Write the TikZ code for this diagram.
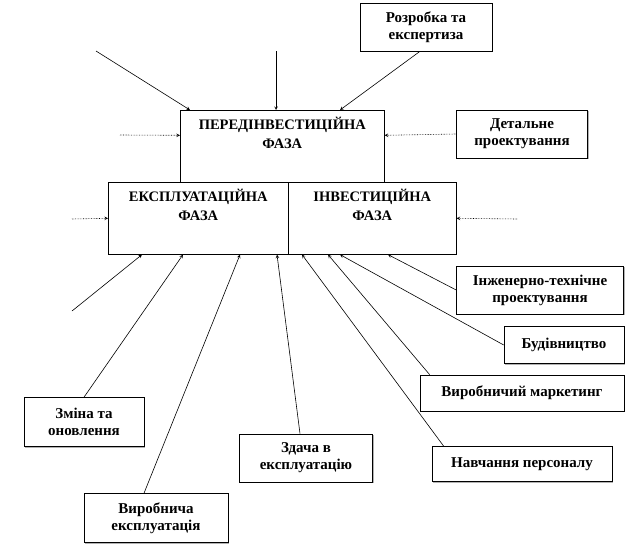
\documentclass[tikz,border=0pt]{standalone}
\usepackage{fontspec}
\setmainfont{Liberation Serif}
\usepackage{tikz}
\usetikzlibrary{arrows, positioning, calc, shadows}
\tikzstyle{arrow} = [semithick,->,>=stealth]
\tikzstyle{dotarrow} = [arrow, densely dotted]

\begin{document}
\begin{tikzpicture}[x=1pt, y=-1pt,
    phase/.style={rectangle, draw, semithick, fill=white, minimum height=72pt, inner sep=0pt, drop shadow={shadow xshift=1pt, shadow yshift=-1pt, fill=gray!60, opacity=1}},
    phasetitle/.style={anchor=north, align=center, yshift=-4pt, font=\bfseries\fontsize{14.5}{19}\selectfont},
    task/.style={rectangle, draw, semithick, fill=white, align=center, inner sep=0pt, font=\bfseries\fontsize{15}{17}\selectfont, drop shadow={shadow xshift=1pt, shadow yshift=-1pt, fill=gray!60, opacity=1}}
  ]
    \useasboundingbox (0,0) rectangle (627,555);

    % Phases
    \node[phase, minimum width=204pt, anchor=north west, label={[phasetitle]north:{ПЕРЕДІНВЕСТИЦІЙНА\\ФАЗА}}] (pre) at (180,110) {};
    \node[phase, minimum width=180pt, anchor=north west, label={[phasetitle]north:{ЕКСПЛУАТАЦІЙНА\\ФАЗА}}] (expl) at (108,182) {};
    \node[phase, minimum width=168pt, anchor=north west, label={[phasetitle]north:{ІНВЕСТИЦІЙНА\\ФАЗА}}] (inv) at (288,182) {};

    % Stages
    \node[task, minimum width=132pt, minimum height=48pt] (razr) at (426,27) {Розробка та\\експертиза};
    \node[task, minimum width=131pt, minimum height=48pt] (detal) at (522,134) {Детальне\\проектування};
    \node[task, minimum width=167pt, minimum height=48pt] (inzh) at (540,290) {Інженерно-технічне\\проектування};
    \node[task, minimum width=120pt, minimum height=37pt] (budiv) at (564,345) {Будівництво};
    \node[task, minimum width=204pt, minimum height=36pt] (market) at (522,393) {Виробничий маркетинг};
    \node[task, minimum width=180pt, minimum height=35pt] (navch) at (522,464) {Навчання персоналу};
    \node[task, minimum width=120pt, minimum height=49pt] (zmina) at (84,422) {Зміна та\\оновлення};
    \node[task, minimum width=144pt, minimum height=49pt] (vyrob) at (156,518) {Виробнича\\експлуатація};
    \node[task, minimum width=133pt, minimum height=48pt] (zdacha) at (306,458) {Здача в\\експлуатацію};

    % Free ends
    \coordinate (inA) at (96,51);
    \coordinate (inB) at (276,51);
    \coordinate (inC) at (120,135);
    \coordinate (inD) at (72,219);
    \coordinate (inE) at (517,219);
    \coordinate (inF) at (72,311);

    % Arrows into the phases
    \draw[arrow] (inA) -- ([xshift=10pt]pre.north west);
    \draw[arrow] (inB) -- ([xshift=96pt]pre.north west);
    \draw[arrow] ([xshift=-6pt]razr.south) -- ([xshift=160pt]pre.north west);
    \draw[dotarrow] (inC) -- ([yshift=11pt]pre.west);
    \draw[dotarrow] (detal.west) -- ([yshift=11pt]pre.east);
    \draw[dotarrow] (inD) -- (expl.west);
    \draw[dotarrow] (inE) -- (inv.east);

    \draw[arrow] (inF) -- ([xshift=34pt]expl.south west);
    \draw[arrow] (zmina.north) -- ([xshift=75pt]expl.south west);
    \draw[arrow] ([xshift=-12pt]vyrob.north) -- ([xshift=132pt]expl.south west);
    \draw[arrow] ([xshift=-6pt]zdacha.north) -- ([xshift=169pt]expl.south west);
    \draw[arrow] ([xshift=12pt]navch.north west) -- ([xshift=14pt]inv.south west);
    \draw[arrow] ([xshift=10pt]market.north west) -- ([xshift=40pt]inv.south west);
    \draw[arrow] (budiv.west) -- ([xshift=52pt]inv.south west);
    \draw[arrow] (inzh.west) -- ([xshift=100pt]inv.south west);
  \end{tikzpicture}
\end{document}
